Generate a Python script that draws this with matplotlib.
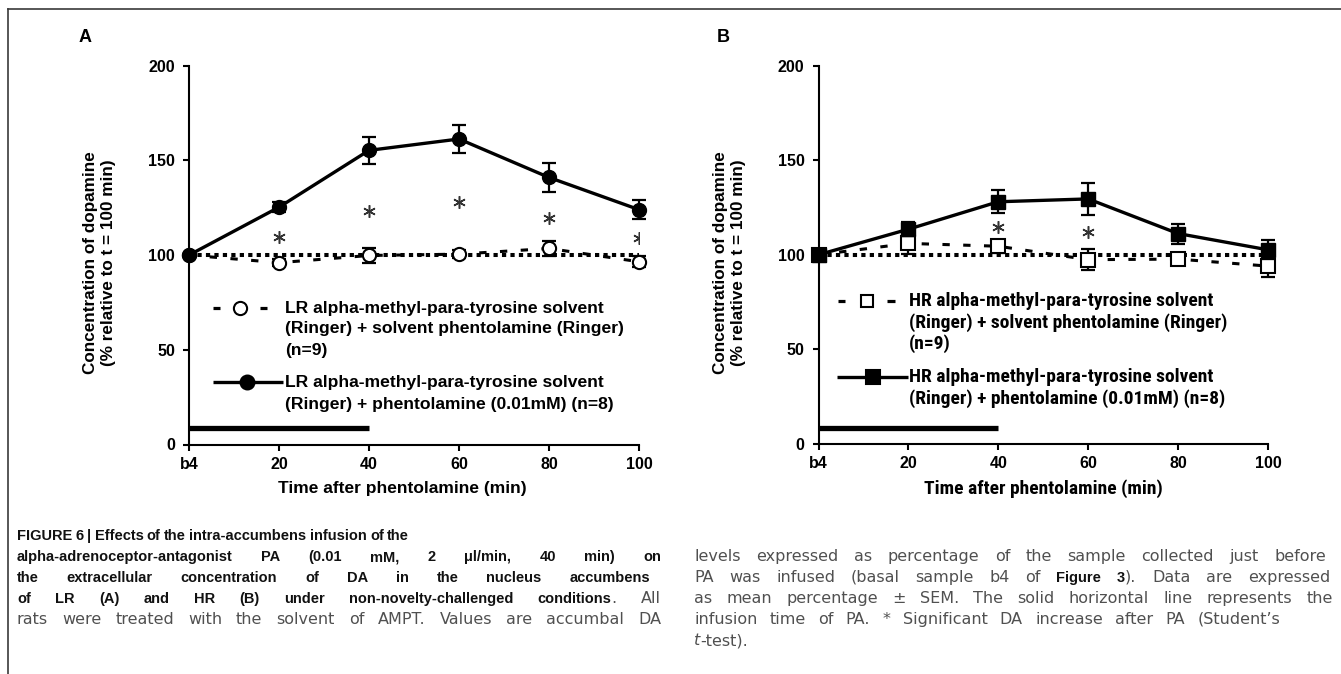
import re
import matplotlib
matplotlib.use('Agg')
import matplotlib.pyplot as plt
from matplotlib.lines import Line2D
from matplotlib.transforms import IdentityTransform
from matplotlib import font_manager
from matplotlib.font_manager import FontProperties

W, H = 1341, 674
DPI = 100

_ttf = font_manager.fontManager.ttflist
_names = {f.name for f in _ttf}
SANS = 'Liberation Sans' if 'Liberation Sans' in _names else 'DejaVu Sans'
WIDE = 'DejaVu Sans'


def pick_condensed():
    prefs = ['Liberation Sans Narrow', 'Arial Narrow', 'Roboto Condensed',
             'Open Sans Condensed', 'Noto Sans Condensed', 'DejaVu Sans Condensed',
             'Nimbus Sans Narrow']
    for p in prefs:
        if p in _names:
            return p, 'normal'
    for f in _ttf:
        st = f.stretch
        cond = (isinstance(st, str) and st in ('condensed', 'extra-condensed')) or \
               (isinstance(st, (int, float)) and st <= 300)
        if cond and f.name in ('Noto Sans', 'Roboto', 'Open Sans', 'DejaVu Sans', 'Inter', 'Lato'):
            return f.name, 'condensed'
    return SANS, 'normal'


COND, COND_STRETCH = pick_condensed()


def fp_bold(size):
    return FontProperties(family=SANS, weight='bold', size=size)


def fp_cond_bold(size):
    return FontProperties(family=COND, stretch=COND_STRETCH, weight='bold', size=size)


# ---------------- data ----------------
time_min = [0, 20, 40, 60, 80, 100]
x_ticklabels = ['b4', '20', '40', '60', '80', '100']
y_ticks = [0, 50, 100, 150, 200]

lr_pa_mean = [100, 125.3, 155.3, 161.3, 141.0, 124.0]
lr_pa_sem = [0, 2.5, 7.0, 7.5, 7.7, 5.0]
lr_ctrl_mean = [100, 96.0, 99.8, 100.5, 103.5, 96.5]
lr_ctrl_sem = [0, 2.0, 4.2, 2.0, 4.0, 3.0]
lr_star_time = [20, 40, 60, 80, 100]
lr_star_y = [109.7, 123.4, 128.1, 119.4, 108.8]

hr_pa_mean = [100, 113.5, 128.0, 129.5, 111.2, 102.6]
hr_pa_sem = [0, 3.8, 6.0, 8.5, 5.3, 5.0]
hr_ctrl_mean = [100, 106.0, 104.5, 97.4, 97.7, 94.0]
hr_ctrl_sem = [0, 5.5, 3.5, 5.5, 2.0, 5.5]
hr_star_time = [40, 60]
hr_star_y = [114.7, 112.0]

reference_level = 100
infusion_start, infusion_end = 0, 40
infusion_bar_y = 8.5

lr_ctrl_label = ['LR alpha-methyl-para-tyrosine solvent',
                 '(Ringer) + solvent phentolamine (Ringer)', '(n=9)']
lr_pa_label = ['LR alpha-methyl-para-tyrosine solvent',
               '(Ringer) + phentolamine (0.01mM) (n=8)']
hr_ctrl_label = ['HR alpha-methyl-para-tyrosine solvent',
                 '(Ringer) + solvent phentolamine (Ringer)', '(n=9)']
hr_pa_label = ['HR alpha-methyl-para-tyrosine solvent',
               '(Ringer) + phentolamine (0.01mM) (n=8)']

y_label = 'Concentration of dopamine\n(% relative to t = 100 min)'
x_label = 'Time after phentolamine (min)'

caption_left = [
    '**FIGURE 6 | Effects of the intra-accumbens infusion of the',
    'alpha-adrenoceptor-antagonist PA (0.01 mM, 2 \u03bcl/min, 40 min) on',
    'the extracellular concentration of DA in the nucleus accumbens',
    'of LR (A) and HR (B) under non-novelty-challenged conditions**. All',
    'rats were treated with the solvent of AMPT. Values are accumbal DA',
]
caption_right = [
    'levels expressed as percentage of the sample collected just before',
    'PA was infused (basal sample b4 of **Figure 3**). Data are expressed',
    'as mean percentage \u00b1 SEM. The solid horizontal line represents the',
    'infusion time of PA. * Significant DA increase after PA (Student\u2019s',
    '~t~-test).',
]

# ---------------- figure ----------------
fig = plt.figure(figsize=(W / DPI, H / DPI), dpi=DPI)
ID = IdentityTransform()
renderer = fig.canvas.get_renderer()


def width_of(s, fp):
    t = fig.text(0, 0, s, transform=ID, fontproperties=fp)
    w = t.get_window_extent(renderer).width
    t.remove()
    return w


def px_axes(left, right, top, bottom):
    return fig.add_axes([left / W, 1 - bottom / H, (right - left) / W, (bottom - top) / H])


TICK_FP = fp_bold(11.5)


def draw_panel(ax, pa_mean, pa_sem, ctrl_mean, ctrl_sem, star_t, star_y, marker, ms):
    ax.set_xlim(time_min[0], time_min[-1])
    ax.set_ylim(y_ticks[0], y_ticks[-1])
    ax.plot(time_min, ctrl_mean, color='black', lw=2.2, dashes=(2.4, 4.4),
            dash_capstyle='butt', zorder=2, clip_on=False)
    ax.plot([time_min[0], time_min[-1]], [reference_level, reference_level],
            color='black', lw=2.9, dashes=(1.05, 1.05), dash_capstyle='butt',
            zorder=3, clip_on=False)
    eb = ax.errorbar(time_min, ctrl_mean, yerr=ctrl_sem, fmt='none', ecolor='black',
                     elinewidth=1.6, capsize=5, capthick=1.6, zorder=4)
    for art in eb.lines[1] + eb.lines[2]:
        art.set_clip_on(False)
    ax.plot(time_min, ctrl_mean, ls='none', marker=marker, ms=ms, mfc='white',
            mec='black', mew=1.5, zorder=5, clip_on=False)
    eb = ax.errorbar(time_min, pa_mean, yerr=pa_sem, fmt='none', ecolor='black',
                     elinewidth=1.6, capsize=5, capthick=1.6, zorder=6)
    for art in eb.lines[1] + eb.lines[2]:
        art.set_clip_on(False)
    ax.plot(time_min, pa_mean, color='black', lw=2.4, marker=marker, ms=ms + 0.5,
            mfc='black', mec='black', zorder=7, clip_on=False)
    ax.plot(star_t, star_y, ls='none', marker=(6, 2, 0), ms=9, mew=1.1,
            color='#333333', zorder=8)
    ax.plot([infusion_start, infusion_end], [infusion_bar_y, infusion_bar_y],
            color='black', lw=3.8, solid_capstyle='butt', zorder=3)

    for s in ['top', 'right']:
        ax.spines[s].set_visible(False)
    for s in ['left', 'bottom']:
        ax.spines[s].set_linewidth(1.5)
    ax.set_xticks(time_min, x_ticklabels, fontproperties=TICK_FP)
    ax.set_yticks(y_ticks, [str(v) for v in y_ticks], fontproperties=TICK_FP)
    ax.tick_params(axis='both', direction='out', length=4.5, width=1.5, colors='black')
    ax.tick_params(axis='x', pad=4.5)
    ax.tick_params(axis='y', pad=5.5)
    ax.set_facecolor('none')


axA = px_axes(189, 639, 65.7, 444.5)
draw_panel(axA, lr_pa_mean, lr_pa_sem, lr_ctrl_mean, lr_ctrl_sem,
           lr_star_time, lr_star_y, 'o', 9.5)
axB = px_axes(818.5, 1268, 65.5, 444.0)
draw_panel(axB, hr_pa_mean, hr_pa_sem, hr_ctrl_mean, hr_ctrl_sem,
           hr_star_time, hr_star_y, 's', 9.5)


def ptext(x, y, s, fp, **kw):
    base = dict(transform=ID, color='black', fontproperties=fp)
    base.update(kw)
    return fig.text(x, H - y, s, **base)


# panel letters
ptext(85, 37, 'A', fp_bold(13), ha='center', va='center')
ptext(723, 37, 'B', fp_bold(13), ha='center', va='center')

# axis labels
for xc in (99, 729):
    ptext(xc, 263, y_label, fp_bold(12.3), rotation=90,
          ha='center', va='center', multialignment='center', linespacing=1.25)
ptext(402, 489, x_label, fp_bold(12.5), ha='center', va='center')
_xb = 10 * 261 / width_of(x_label, fp_cond_bold(10))
ptext(1043, 489, x_label, fp_cond_bold(max(11, min(14, _xb))), ha='center', va='center')


# manual legends
def handle_line(xs, y, dashed_parts=None):
    if dashed_parts:
        for a, b in dashed_parts:
            fig.add_artist(Line2D([a, b], [H - y, H - y], transform=ID, color='black',
                                  lw=2.3, solid_capstyle='butt'))
    else:
        fig.add_artist(Line2D(xs, [H - y, H - y], transform=ID, color='black',
                              lw=2.4, solid_capstyle='butt'))


def handle_marker(x, y, marker, filled, ms):
    fig.add_artist(Line2D([x], [H - y], transform=ID, ls='none', marker=marker, ms=ms,
                          mfc='black' if filled else 'white', mec='black', mew=1.5))


def legend_text(x, ys, lines, fp):
    for yy, s in zip(ys, lines):
        ptext(x, yy, s, fp, ha='left', va='center')


# Panel A legend
LEG_A_FP = fp_bold(12.6)
handle_line(None, 308, dashed_parts=[(213, 220), (260, 267)])
handle_marker(240, 308, 'o', False, 9.5)
legend_text(285, [308, 329, 350], lr_ctrl_label, LEG_A_FP)
handle_line([213, 283], 382)
handle_marker(247, 382, 'o', True, 10)
legend_text(285, [382, 404], lr_pa_label, LEG_A_FP)

# Panel B legend (condensed face as in the reference)
_lb = 10 * 326 / width_of(hr_ctrl_label[0], fp_cond_bold(10))
LEG_B_FP = fp_cond_bold(max(11, min(14, _lb)))
handle_line(None, 301, dashed_parts=[(838, 845), (887, 895)])
handle_marker(867, 301, 's', False, 9)
legend_text(909, [301, 323, 344], hr_ctrl_label, LEG_B_FP)
handle_line([837, 908], 377)
handle_marker(873, 377, 's', True, 10)
legend_text(909, [377, 399], hr_pa_label, LEG_B_FP)

# frame
fig.add_artist(Line2D([8, W], [H - 9, H - 9], transform=ID, color='#3a3a3a', lw=1.2))
fig.add_artist(Line2D([8, 8], [H - 9, 0], transform=ID, color='#3a3a3a', lw=1.2))


# ---------------- caption (justified) ----------------
def parse_line(line, state):
    words = []
    for w in line.split(' '):
        segs = []
        for tok in re.split(r'(\*\*|~)', w):
            if tok == '**':
                state['b'] = not state['b']
                continue
            if tok == '~':
                state['i'] = not state['i']
                continue
            if tok:
                segs.append((tok, state['b'], state['i']))
        words.append(segs)
    return words


_cb = 10 * 398 / width_of('FIGURE 6 | Effects of the intra-accumbens infusion of the', fp_bold(10))
CAP_BOLD_FP = fp_bold(max(9.5, min(11.8, _cb)))
_cr = 10 * 78 / width_of('accumbal', FontProperties(family=WIDE, size=10))
CAP_REG_FS = max(9.5, min(11.8, _cr))


def cap_text(s, y, bold, italic):
    if bold:
        fp = CAP_BOLD_FP
        col = '#111111'
    else:
        fp = FontProperties(family=WIDE, size=CAP_REG_FS,
                            style='italic' if italic else 'normal')
        col = '#505050'
    return fig.text(0, H - y, s, transform=ID, fontproperties=fp, color=col,
                    va='baseline', ha='left')


def draw_caption(lines, x0, ends, y0, dy):
    state = {'b': False, 'i': False}
    space = CAP_REG_FS * DPI / 72 * 0.3
    for k, (line, x1) in enumerate(zip(lines, ends)):
        y = y0 + k * dy
        words = parse_line(line, state)
        word_objs = []
        for segs in words:
            objs = []
            for s, b, it in segs:
                t = cap_text(s, y, b, it)
                objs.append((t, t.get_window_extent(renderer).width))
            word_objs.append(objs)
        widths = [sum(w for _, w in objs) for objs in word_objs]
        n = len(word_objs)
        if x1 is not None and n > 1:
            gap = max(space * 0.7, (x1 - x0 - sum(widths)) / (n - 1))
        else:
            gap = space
        x = x0
        for objs, wsum in zip(word_objs, widths):
            xx = x
            for t, wdt in objs:
                t.set_position((xx, H - y))
                xx += wdt
            x += wsum + gap


draw_caption(caption_left, 17, [408, 661, 650, 661, 661], 540, 21)
draw_caption(caption_right, 694, [1326, 1330, 1333, 1280, None], 561, 21)

fig.savefig('out.png', dpi=DPI)
